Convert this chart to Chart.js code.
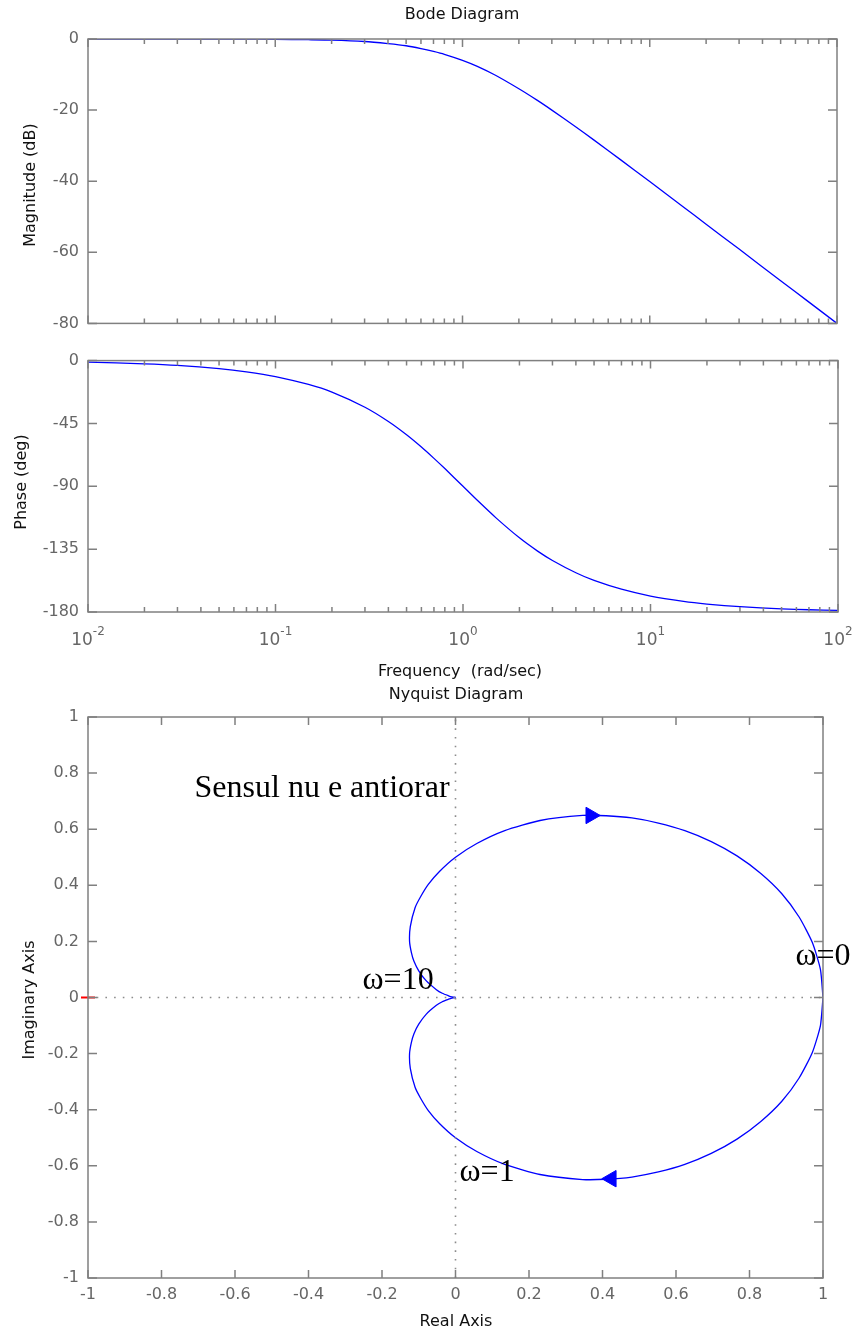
<!DOCTYPE html>
<html>
<head>
<meta charset="utf-8">
<title>Bode and Nyquist diagrams</title>
<script src="https://cdn.jsdelivr.net/npm/chart.js@4.4.1/dist/chart.umd.min.js"></script>
<style>
  html, body { margin: 0; padding: 0; background: #ffffff; }
  body { width: 855px; height: 1335px; position: relative; overflow: hidden; }
  canvas { position: absolute; left: 0; }
</style>
</head>
<body>
<canvas id="magChart" width="855" height="342" style="top:0px"></canvas>
<canvas id="phaseChart" width="855" height="340" style="top:342px"></canvas>
<canvas id="nyqChart" width="855" height="653" style="top:682px"></canvas>
<script>
// ---- Bode data: frequency (rad/sec), magnitude (dB), phase (deg) ----
const freq = [0.01, 0.02, 0.03, 0.05, 0.07, 0.1, 0.15, 0.2, 0.3, 0.4, 0.5, 0.6, 0.7, 0.8, 1,
              1.2, 1.5, 2, 2.5, 3, 4, 5, 7, 10, 15, 20, 30, 50, 70, 100];
const magDb = [0, 0, 0, 0, 0, -0.1, -0.2, -0.3, -0.7, -1.3, -1.9, -2.7, -3.5, -4.3, -6.0,
               -7.7, -10.2, -14.0, -17.2, -20.0, -24.6, -28.3, -34.0, -40.1, -47.1, -52.1, -59.1, -68.0, -73.8, -80.0];
const phaseDeg = [-1.1, -2.3, -3.4, -5.7, -8.0, -11.4, -17.1, -22.6, -33.4, -43.6, -53.1, -61.9, -70.0, -77.3, -90.0,
                  -100.4, -112.6, -126.9, -136.4, -143.1, -151.9, -157.4, -163.7, -168.6, -172.4, -174.3, -176.2, -177.7, -178.4, -178.9];

// ---- Bode axis ticks ----
const freqDecades = [0.01, 0.1, 1, 10, 100];
const freqDecadeExp = ['-2', '-1', '0', '1', '2'];
const freqMinorSteps = [2, 3, 4, 5, 6, 7, 8, 9];
const magTicks = [0, -20, -40, -60, -80];
const magTickLabels = ['0', '-20', '-40', '-60', '-80'];
const phaseTicks = [0, -45, -90, -135, -180];
const phaseTickLabels = ['0', '-45', '-90', '-135', '-180'];

// ---- Nyquist data: lower branch (w >= 0) and upper branch (w <= 0) ----
const nyqLowRe = [1, 0.993, 0.971, 0.935, 0.888, 0.830, 0.766, 0.696, 0.624, 0.552, 0.480, 0.410, 0.346, 0.230, 0.134,
                  0.058, 0.000, -0.043, -0.074, -0.095, -0.110, -0.123, -0.125, -0.120, -0.113, -0.100, -0.080, -0.052,
                  -0.036, -0.019, -0.010, -0.002, 0];
const nyqLowIm = [0, -0.100, -0.196, -0.287, -0.370, -0.443, -0.505, -0.556, -0.595, -0.622, -0.640, -0.648, -0.649, -0.631, -0.595,
                  -0.549, -0.500, -0.450, -0.403, -0.359, -0.320, -0.253, -0.200, -0.160, -0.129, -0.095, -0.060, -0.028,
                  -0.015, -0.006, -0.002, 0, 0];
const nyqUpRe = [0, -0.002, -0.010, -0.019, -0.036, -0.052, -0.080, -0.100, -0.113, -0.120, -0.125, -0.123, -0.110, -0.095,
                 -0.074, -0.043, 0.000, 0.058, 0.134, 0.230, 0.346, 0.410, 0.480, 0.552, 0.624, 0.696, 0.766, 0.830,
                 0.888, 0.935, 0.971, 0.993, 1];
const nyqUpIm = [0, 0, 0.002, 0.006, 0.015, 0.028, 0.060, 0.095, 0.129, 0.160, 0.200, 0.253, 0.320, 0.359,
                 0.403, 0.450, 0.500, 0.549, 0.595, 0.631, 0.649, 0.648, 0.640, 0.622, 0.595, 0.556, 0.505, 0.443,
                 0.370, 0.287, 0.196, 0.100, 0];
// direction arrows on the two branches
const arrowRe = [0.368, 0.424];
const arrowIm = [0.649, -0.646];
const arrowRot = [90, -90];
// critical point
const critRe = [-1];
const critIm = [0];

// ---- Nyquist axis ticks ----
const nyqTicks = [-1, -0.8, -0.6, -0.4, -0.2, 0, 0.2, 0.4, 0.6, 0.8, 1];
const nyqTickLabels = ['-1', '-0.8', '-0.6', '-0.4', '-0.2', '0', '0.2', '0.4', '0.6', '0.8', '1'];

// ---- annotations placed in Nyquist data coordinates ----
const noteText = ['Sensul nu e antiorar', 'ω=10', 'ω=0', 'ω=1'];
const noteRe = [-0.71, -0.253, 0.925, 0.011];
const noteIm = [0.715, 0.030, 0.116, -0.654];

// ---- styling ----
const AXIS_COLOR = '#808080';
const TICK_TEXT = '#666666';
const LABEL_TEXT = '#111111';
const LINE_BLUE = '#0000ff';
const SANS = 'DejaVu Sans';
const SERIF = 'Liberation Serif';

Chart.defaults.font.family = SANS;
Chart.defaults.font.size = 16;
Chart.defaults.animation = false;

const freqTickList = [];
freqDecades.forEach((d, i) => {
  freqTickList.push({ value: d, major: true });
  if (i < freqDecades.length - 1) {
    freqMinorSteps.forEach(m => freqTickList.push({ value: m * d, major: false }));
  }
});

function pairs(xs, ys) { return xs.map((x, i) => ({ x: x, y: ys[i] })); }

// Draws the closed box, inward tick marks and free text of a panel.
const panelFrame = {
  id: 'panelFrame',
  afterDraw(chart, args, opts) {
    const { ctx, chartArea: a } = chart;
    const xs = chart.scales.x, ys = chart.scales.y;
    ctx.save();
    ctx.strokeStyle = AXIS_COLOR;
    ctx.lineWidth = 1.5;
    ctx.beginPath();
    xs.ticks.forEach(t => {
      const px = xs.getPixelForValue(t.value);
      const len = (opts.logX && !t.major) ? 5 : 8;
      ctx.moveTo(px, a.bottom); ctx.lineTo(px, a.bottom - len);
      ctx.moveTo(px, a.top); ctx.lineTo(px, a.top + len);
    });
    ys.ticks.forEach(t => {
      const py = ys.getPixelForValue(t.value);
      ctx.moveTo(a.left, py); ctx.lineTo(a.left + 9, py);
      ctx.moveTo(a.right, py); ctx.lineTo(a.right - 9, py);
    });
    ctx.stroke();
    ctx.strokeRect(a.left, a.top, a.right - a.left, a.bottom - a.top);

    // decade labels 10^n under a log axis
    if (opts.decadeLabels) {
      freqDecades.forEach((d, i) => {
        const px = xs.getPixelForValue(d);
        const base = '10', sup = freqDecadeExp[i];
        ctx.font = '17px ' + SANS;
        const wb = ctx.measureText(base).width;
        ctx.font = '12px ' + SANS;
        const ws = ctx.measureText(sup).width;
        const left = px - (wb + ws) / 2;
        ctx.fillStyle = TICK_TEXT;
        ctx.textBaseline = 'alphabetic';
        ctx.textAlign = 'left';
        ctx.font = '17px ' + SANS;
        ctx.fillText(base, left, opts.decadeLabels.baseline);
        ctx.font = '12px ' + SANS;
        ctx.fillText(sup, left + wb, opts.decadeLabels.baseline - 10);
      });
    }

    (opts.texts || []).forEach(t => {
      ctx.save();
      ctx.fillStyle = t.color || LABEL_TEXT;
      ctx.font = t.font;
      ctx.textAlign = 'center';
      ctx.textBaseline = 'middle';
      ctx.translate(t.x, t.y);
      if (t.rotate) ctx.rotate(-Math.PI / 2);
      ctx.fillText(t.text, 0, 0);
      ctx.restore();
    });

    if (opts.notes) {
      ctx.fillStyle = '#000000';
      ctx.font = '32px ' + SERIF;
      ctx.textAlign = 'left';
      ctx.textBaseline = 'alphabetic';
      noteText.forEach((s, i) => {
        ctx.fillText(s, xs.getPixelForValue(noteRe[i]), ys.getPixelForValue(noteIm[i]));
      });
    }
    ctx.restore();
  }
};

function yAxis(min, max, ticks, labels, width) {
  return {
    type: 'linear', position: 'left', min: min, max: max,
    afterBuildTicks: s => { s.ticks = ticks.map(v => ({ value: v })); },
    afterFit: s => { s.width = width; },
    ticks: { autoSkip: false, padding: 9, color: TICK_TEXT, font: { size: 16 },
             callback: (v, i) => labels[i] },
    grid: { display: false, drawTicks: false },
    border: { display: false }
  };
}

function freqAxis(height) {
  return {
    type: 'logarithmic', position: 'bottom', min: 0.01, max: 100,
    afterBuildTicks: s => { s.ticks = freqTickList.map(t => ({ value: t.value, major: t.major })); },
    afterFit: s => { s.height = height; },
    ticks: { display: false, autoSkip: false },
    grid: { display: false, drawTicks: false },
    border: { display: false }
  };
}

const lineStyle = { borderColor: LINE_BLUE, borderWidth: 1.3, pointRadius: 0, fill: false, tension: 0.2, showLine: true };

// ---- Magnitude panel ----
new Chart(document.getElementById('magChart'), {
  type: 'scatter',
  data: { datasets: [Object.assign({ data: pairs(freq, magDb) }, lineStyle)] },
  options: {
    responsive: false, events: [],
    layout: { padding: { top: 39, right: 18, left: 0, bottom: 0 } },
    plugins: {
      legend: { display: false }, tooltip: { enabled: false },
      panelFrame: {
        logX: true,
        texts: [
          { text: 'Bode Diagram', x: 462, y: 15, font: '16px ' + SANS },
          { text: 'Magnitude (dB)', x: 31, y: 185, font: '16px ' + SANS, rotate: true }
        ]
      }
    },
    scales: { x: freqAxis(10), y: yAxis(-80, 0, magTicks, magTickLabels, 88) }
  },
  plugins: [panelFrame]
});

// ---- Phase panel ----
new Chart(document.getElementById('phaseChart'), {
  type: 'scatter',
  data: { datasets: [Object.assign({ data: pairs(freq, phaseDeg) }, lineStyle)] },
  options: {
    responsive: false, events: [],
    layout: { padding: { top: 11, right: 17, left: 0, bottom: 0 } },
    plugins: {
      legend: { display: false }, tooltip: { enabled: false },
      panelFrame: {
        logX: true,
        decadeLabels: { baseline: 303 },
        texts: [
          { text: 'Phase (deg)', x: 22, y: 140, font: '16px ' + SANS, rotate: true },
          { text: 'Frequency  (rad/sec)', x: 460, y: 330, font: '16px ' + SANS }
        ]
      }
    },
    scales: { x: freqAxis(70), y: yAxis(-180, 0, phaseTicks, phaseTickLabels, 88) }
  },
  plugins: [panelFrame]
});

// ---- Nyquist panel ----
new Chart(document.getElementById('nyqChart'), {
  type: 'scatter',
  data: {
    datasets: [
      { data: [{ x: -1, y: 0 }, { x: 1, y: 0 }], showLine: true, pointRadius: 0,
        borderColor: '#8c8c8c', borderWidth: 1.6, borderDash: [1.6, 7.1] },
      { data: [{ x: 0, y: -1 }, { x: 0, y: 1 }], showLine: true, pointRadius: 0,
        borderColor: '#8c8c8c', borderWidth: 1.6, borderDash: [1.6, 7.1] },
      Object.assign({ data: pairs(nyqLowRe, nyqLowIm) }, lineStyle),
      Object.assign({ data: pairs(nyqUpRe, nyqUpIm) }, lineStyle),
      { data: pairs(arrowRe, arrowIm), showLine: false, pointStyle: 'triangle',
        pointRadius: 9.5, rotation: arrowRot, pointBackgroundColor: LINE_BLUE,
        pointBorderColor: LINE_BLUE, pointBorderWidth: 1 },
      { data: pairs(critRe, critIm), showLine: false, pointStyle: 'line', pointRadius: 7,
        pointBorderColor: '#ff0000', pointBorderWidth: 2, clip: false }
    ]
  },
  options: {
    responsive: false, events: [],
    layout: { padding: { top: 35, right: 32, left: 0, bottom: 0 } },
    plugins: {
      legend: { display: false }, tooltip: { enabled: false },
      panelFrame: {
        notes: true,
        texts: [
          { text: 'Nyquist Diagram', x: 456, y: 13, font: '16px ' + SANS },
          { text: 'Real Axis', x: 456, y: 640, font: '16px ' + SANS },
          { text: 'Imaginary Axis', x: 30, y: 318, font: '16px ' + SANS, rotate: true }
        ]
      }
    },
    scales: {
      x: {
        type: 'linear', position: 'bottom', min: -1, max: 1,
        afterBuildTicks: s => { s.ticks = nyqTicks.map(v => ({ value: v })); },
        afterFit: s => { s.height = 57; },
        ticks: { autoSkip: false, maxRotation: 0, padding: 7, color: TICK_TEXT, font: { size: 16 },
                 callback: (v, i) => nyqTickLabels[i] },
        grid: { display: false, drawTicks: false },
        border: { display: false }
      },
      y: yAxis(-1, 1, nyqTicks, nyqTickLabels, 88)
    }
  },
  plugins: [panelFrame]
});
</script>
</body>
</html>
